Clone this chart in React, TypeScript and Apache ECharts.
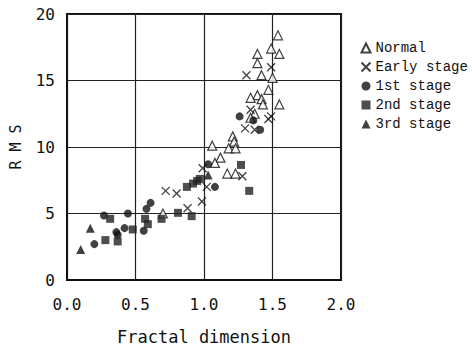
import React, { useEffect, useRef } from "react";
import * as echarts from "echarts";

const xTicks = [0, 0.5, 1.0, 1.5, 2.0];
const yTicks = [0, 5, 10, 15, 20];

const normal: number[][] = [
  [1.54, 18.4], [1.49, 17.4], [1.55, 17.0], [1.39, 17.0], [1.39, 16.3],
  [1.42, 15.4], [1.5, 15.2], [1.47, 14.3], [1.39, 13.9], [1.34, 13.7],
  [1.42, 13.6], [1.43, 13.2], [1.55, 13.2], [1.37, 12.5], [1.34, 12.2],
  [1.21, 10.8], [1.22, 10.4], [1.06, 10.1], [1.18, 9.9], [1.23, 9.9],
  [1.12, 9.2], [1.08, 8.8], [1.17, 8.0], [1.23, 8.0], [0.7, 5.0],
];
const early: number[][] = [
  [1.31, 15.4], [1.49, 16.0], [1.34, 12.8], [1.47, 12.1], [1.49, 12.3],
  [1.3, 11.4], [1.37, 11.3], [1.28, 7.8], [0.99, 8.4], [1.02, 7.0],
  [0.72, 6.7], [0.8, 6.5], [0.985, 5.9], [0.88, 5.4],
];
const stage1: number[][] = [
  [0.61, 5.8], [0.58, 5.35], [0.445, 5.0], [0.27, 4.85], [0.42, 3.9],
  [0.36, 3.6], [0.37, 3.4], [0.2, 2.7], [0.56, 3.7], [1.03, 8.7],
  [1.08, 7.0], [1.26, 12.3], [1.36, 12.0], [1.41, 11.3],
];
const stage2: number[][] = [
  [0.315, 4.6], [0.28, 3.0], [0.37, 2.9], [0.48, 3.8], [0.57, 4.6],
  [0.59, 4.2], [0.69, 4.6], [0.81, 5.05], [0.91, 4.8], [0.875, 7.0],
  [0.92, 7.25], [0.95, 7.45], [0.97, 7.6], [1.27, 8.65], [1.33, 6.7],
];
const stage3: number[][] = [
  [0.17, 3.9], [0.1, 2.3], [1.03, 7.9],
];

const seriesNames = ["Normal", "Early stage", "1st stage", "2nd stage", "3rd stage"];

const crossPath = "path://M0,0L10,10M10,0L0,10";

export default function App() {
  const ref = useRef<HTMLDivElement>(null);
  useEffect(() => {
    if (!ref.current) return;
    const chart = echarts.init(ref.current, null, { renderer: "svg" });
    const axisFont = { fontFamily: "DejaVu Sans Mono", fontSize: 16, color: "#111" };
    chart.setOption({
      animation: false,
      backgroundColor: "#fff",
      grid: {
        left: 67, right: 131, top: 14, bottom: 63,
        show: true, borderColor: "#111", borderWidth: 2,
      },
      legend: {
        orient: "vertical",
        left: 354,
        top: 36,
        itemWidth: 9,
        itemHeight: 9,
        itemGap: 5,
        textStyle: { fontFamily: "Liberation Mono", fontSize: 14, color: "#111" },
        data: seriesNames,
      },
      xAxis: {
        type: "value",
        min: xTicks[0], max: xTicks[xTicks.length - 1], interval: 0.5,
        axisLine: { show: true, lineStyle: { color: "#111", width: 2 } },
        axisTick: { show: false },
        splitLine: { show: true, lineStyle: { color: "#222", width: 1.2 } },
        axisLabel: { ...axisFont, margin: 16, formatter: (v: number) => v.toFixed(1) },
        name: "Fractal dimension",
        nameLocation: "middle",
        nameGap: 48,
        nameTextStyle: { fontFamily: "DejaVu Sans Mono", fontSize: 17, color: "#111" },
      },
      yAxis: {
        type: "value",
        min: yTicks[0], max: yTicks[yTicks.length - 1], interval: 5,
        axisLine: { show: true, lineStyle: { color: "#111", width: 2 } },
        axisTick: { show: false },
        splitLine: { show: true, lineStyle: { color: "#222", width: 1.2 } },
        axisLabel: { ...axisFont, margin: 12 },
        name: "R M S",
        nameLocation: "middle",
        nameRotate: 90,
        nameGap: 44,
        nameTextStyle: { fontFamily: "DejaVu Sans Mono", fontSize: 15, color: "#111" },
      },
      series: [
        {
          name: seriesNames[0], type: "scatter", data: normal,
          symbol: "triangle", symbolSize: 9,
          itemStyle: { color: "#fff", borderColor: "#111", borderWidth: 1.2 },
        },
        {
          name: seriesNames[1], type: "scatter", data: early,
          symbol: crossPath, symbolSize: 8,
          itemStyle: { color: "none", borderColor: "#111", borderWidth: 1.3 },
        },
        {
          name: seriesNames[2], type: "scatter", data: stage1,
          symbol: "circle", symbolSize: 8,
          itemStyle: { color: "#111" },
        },
        {
          name: seriesNames[3], type: "scatter", data: stage2,
          symbol: "rect", symbolSize: 8,
          itemStyle: { color: "#222" },
        },
        {
          name: seriesNames[4], type: "scatter", data: stage3,
          symbol: "triangle", symbolSize: 9,
          itemStyle: { color: "#111" },
        },
      ],
    });
    return () => chart.dispose();
  }, []);
  return <div ref={ref} style={{ width: 472, height: 350, position: "absolute", left: 0, top: 0 }} />;
}
